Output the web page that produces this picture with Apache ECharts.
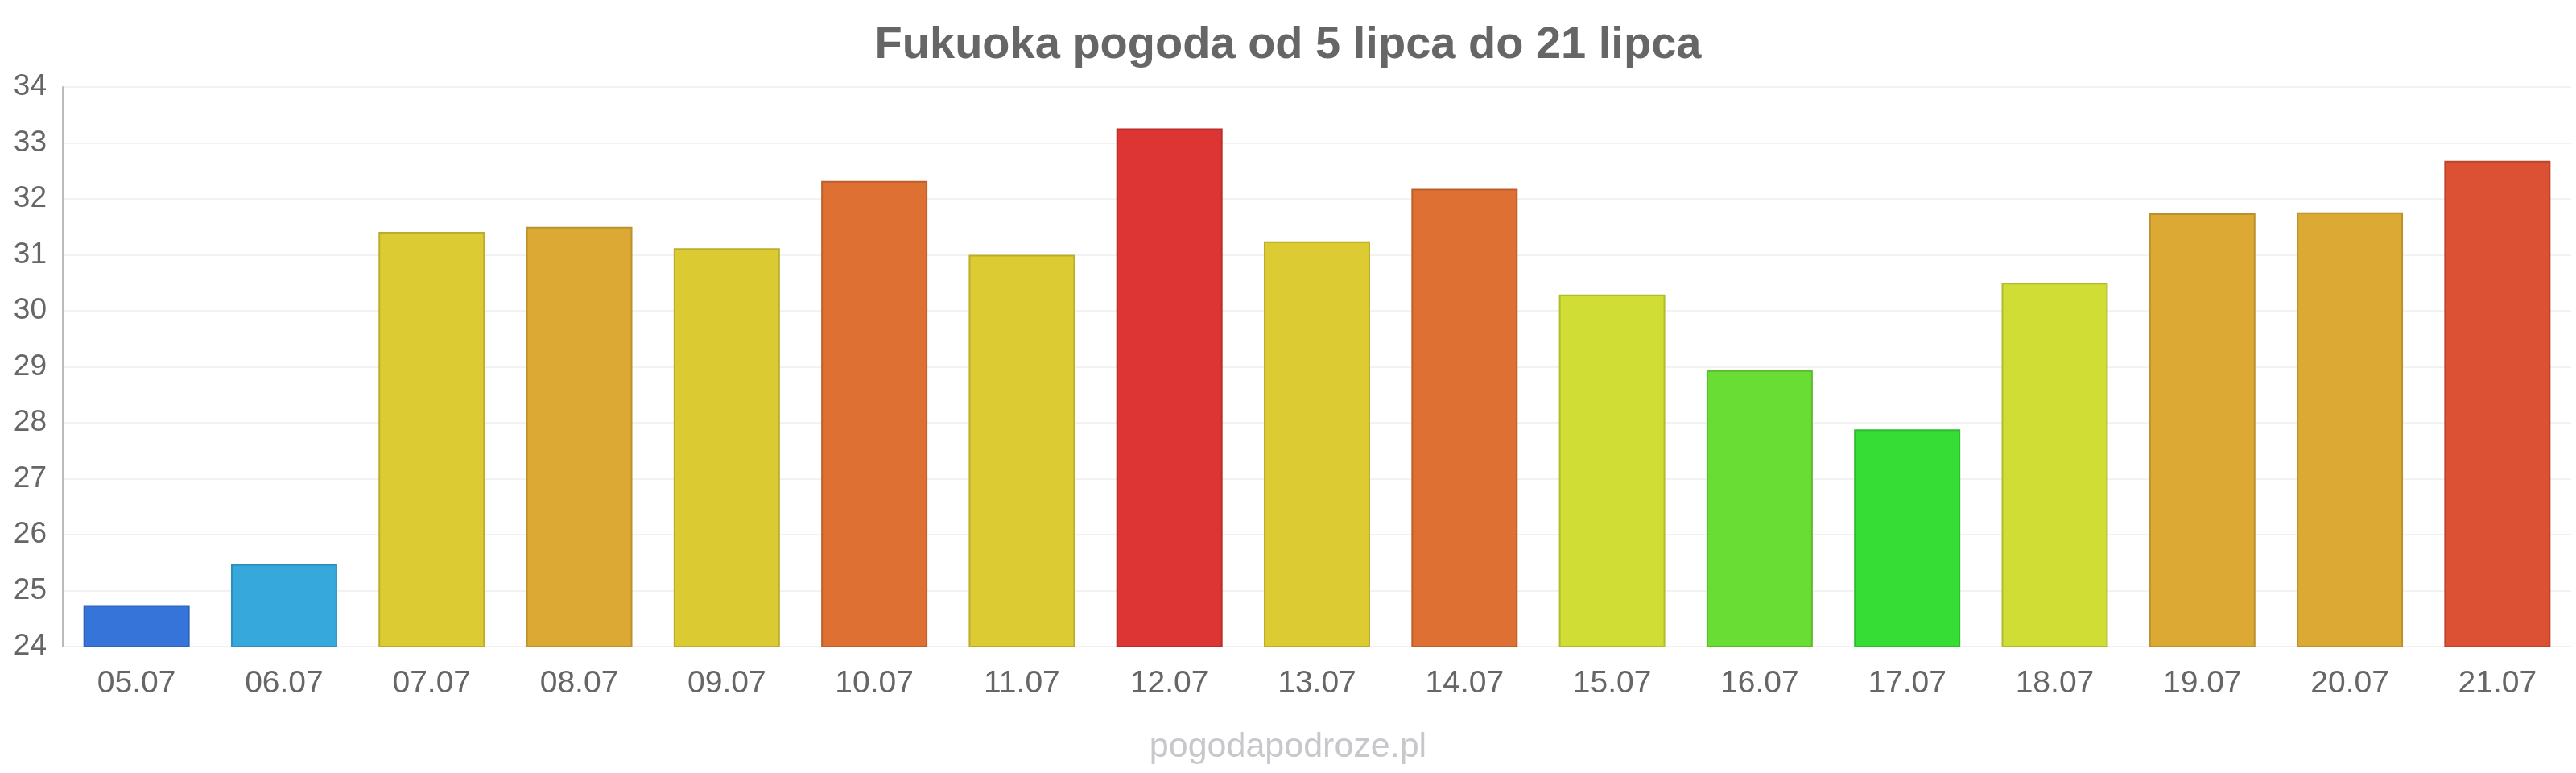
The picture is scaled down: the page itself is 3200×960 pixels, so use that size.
<!DOCTYPE html>
<html>
<head>
    <meta charset="utf-8">
    <script src="https://cdn.jsdelivr.net/npm/echarts@6/dist/echarts.min.js"></script>
    <style>
        html, body { margin: 0; padding: 0; background: #fff; }
    </style>
</head>
<body>
<div id="main" style="width: 3200px;height:960px;"></div>

<script type="text/javascript">
    // dane
    var days = ['05.07', '06.07', '07.07', '08.07', '09.07', '10.07', '11.07', '12.07', '13.07',
        '14.07', '15.07', '16.07', '17.07', '18.07', '19.07', '20.07', '21.07'];
    var temps = [24.74, 25.47, 31.41, 31.5, 31.12, 32.32, 31.0, 33.26, 31.24,
        32.18, 30.29, 28.94, 27.88, 30.5, 31.74, 31.76, 32.68];
    var yTicks = [24, 25, 26, 27, 28, 29, 30, 31, 32, 33, 34];

    // kolory słupków
    var barColors = ['#3674d9', '#36a8db', '#dccb33', '#dcaa34', '#dcca33', '#de7033', '#dccb33',
        '#dc3533', '#dccb33', '#de7033', '#d0dd35', '#6add35', '#36dd35', '#d0dd35',
        '#dcaa34', '#dcaa34', '#dc5033'];

    function darker(hex) {
        var n = parseInt(hex.slice(1), 16);
        var r = Math.round(((n >> 16) & 255) * 0.85);
        var g = Math.round(((n >> 8) & 255) * 0.85);
        var b = Math.round((n & 255) * 0.85);
        return 'rgb(' + r + ',' + g + ',' + b + ')';
    }

    var myChart = echarts.init(document.getElementById('main'));
    myChart.setOption({
        animation: false,
        title: [
            {
                text: 'Fukuoka pogoda od 5 lipca do 21 lipca',
                left: 'center',
                top: 24,
                textStyle: {
                    fontFamily: 'Liberation Sans',
                    fontWeight: 'bold',
                    fontSize: 56,
                    color: '#666666'
                }
            },
            {
                text: 'pogodapodroze.pl',
                left: 'center',
                top: 902,
                textStyle: {
                    fontFamily: 'Liberation Sans',
                    fontWeight: 'normal',
                    fontSize: 43,
                    color: '#c8c8cc'
                }
            }
        ],
        grid: {
            left: 78,
            right: 6,
            top: 108,
            bottom: 157,
            containLabel: false
        },
        xAxis: {
            type: 'category',
            data: days,
            axisLine: { show: false },
            axisTick: { show: false },
            splitLine: { show: false },
            axisLabel: {
                fontFamily: 'Liberation Sans',
                fontSize: 39,
                color: '#666666',
                margin: 27
            }
        },
        yAxis: {
            type: 'value',
            min: yTicks[0],
            max: yTicks[yTicks.length - 1],
            interval: 1,
            axisLine: { show: true, lineStyle: { color: '#bbbbbb', width: 2 } },
            axisTick: { show: false },
            splitLine: { show: true, lineStyle: { color: '#f2f2f2', width: 2 } },
            axisLabel: {
                fontFamily: 'Liberation Sans',
                fontSize: 37,
                color: '#666666',
                margin: 20
            }
        },
        series: [
            {
                type: 'bar',
                barWidth: '72%',
                data: temps.map(function (v, i) {
                    return {
                        value: v,
                        itemStyle: {
                            color: barColors[i],
                            borderColor: darker(barColors[i]),
                            borderWidth: 2
                        }
                    };
                })
            }
        ]
    });
</script>
</body>
</html>
